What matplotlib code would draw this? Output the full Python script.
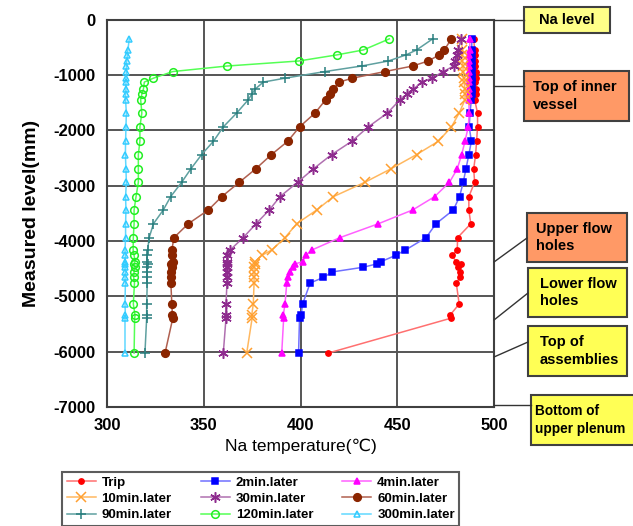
import numpy as np
import matplotlib.pyplot as plt
from matplotlib.patches import Rectangle
from matplotlib.lines import Line2D

plt.rcParams['font.family'] = ['Liberation Sans', 'DejaVu Sans']
plt.rcParams['axes.unicode_minus'] = False

# measured levels (mm), same thermocouple heights for every curve
levels = [-350, -550, -640, -750, -840, -940, -1060, -1130, -1260, -1350, -1450,
          -1690, -1940, -2200, -2440, -2700, -2940, -3200, -3440, -3690, -3940,
          -4165, -4260, -4375, -4415, -4475, -4560, -4660, -4760,
          -5140, -5340, -5395, -6025]

t_trip = [489.5, 490, 490, 490, 490, 490.5, 490.5, 490, 490.5, 490.5, 490,
          491.5, 491.5, 491, 490.5, 489.5, 490, 487, 487, 488, 481.2,
          481, 478.3, 480.4, 483, 481.6, 482.4, 482.4, 480.5,
          482, 477.3, 477.8, 414.4]
t_2min = [488.5, 488.5, 488.5, 488.5, 488.5, 488.5, 488.5, 488.5, 488.5, 488.5, 488.3,
          487.6, 487.2, 488.3, 487, 485.5, 484.1, 482.2, 479, 470, 464.9,
          454.2, 449.2, 441.6, 439.4, 432.5, 416.4, 411.8, 405,
          401.1, 400.3, 399.5, 399]
t_4min = [487.5, 487.5, 487.3, 487.3, 487.3, 487, 487, 487, 487, 487, 487,
          487.2, 486.7, 485, 483.3, 481, 477, 469.3, 458, 440.2, 420.4,
          405.8, 402.8, 401.1, 397.2, 396, 394.6, 393.7, 392.9,
          392, 391.1, 391.3, 390.3]
t_10min = [483.3, 483.5, 483.5, 483.5, 484, 484, 484.5, 484.5, 485, 485, 485,
           482, 478, 471.2, 460, 446.6, 433.3, 417, 408.4, 398, 392,
           385.1, 380, 376.5, 376.5, 376, 376, 376, 376,
           375.6, 374.8, 375, 372.2]
t_30min = [483, 481.5, 481, 479.8, 479.2, 473.8, 467.8, 462.6, 458.3, 455, 451.4,
           444.9, 435, 426.5, 416.1, 406.6, 398.5, 389.4, 383.9, 377, 370.4,
           363.6, 362, 361.8, 362, 361.8, 362, 361.8, 362,
           361.5, 361.3, 361.5, 360.1]
t_60min = [478, 474.3, 471.7, 466, 458, 443.7, 426.8, 420, 417, 415.2, 413,
           407.5, 399.5, 393.4, 385, 376.8, 368.4, 359.3, 352.4, 342, 334.6,
           333.5, 333.8, 334, 333, 333.5, 333, 333, 333,
           333.5, 333.8, 334, 330]
t_90min = [468.3, 460, 454.5, 445.4, 431.6, 412.7, 392, 380.8, 376.5, 374.8, 373,
           367, 360.1, 355, 348.9, 343.3, 338.6, 332.9, 329.1, 324, 321.8,
           321, 320.8, 320.5, 321, 320.5, 320.8, 320.5, 320.8,
           320.5, 320.5, 320.5, 319.6]
t_120min = [445.9, 432.5, 418.7, 399, 362.2, 334, 324, 319.3, 318.8, 318, 317.4,
            318, 317, 317, 316.2, 316.2, 316.2, 315, 314, 314, 313.6,
            313.5, 314, 314.5, 313.8, 314.5, 314, 313.8, 314.2,
            313.6, 314.5, 314.3, 314]
t_300min = [311.5, 310.8, 310.5, 310.2, 310, 310, 309.8, 309.8, 309.8, 309.6, 309.6,
            310, 309.8, 309.6, 309.5, 309.8, 310, 309.6, 309.8, 309.6, 309.6,
            309.3, 309.5, 309.2, 309.5, 309.3, 309.5, 309.3, 309.5,
            309.3, 309.5, 309.3, 309.3]

names = ['Trip', '2min.later', '4min.later', '10min.later', '30min.later',
         '60min.later', '90min.later', '120min.later', '300min.later']
temps = [t_trip, t_2min, t_4min, t_10min, t_30min, t_60min, t_90min, t_120min, t_300min]

mcol = ['#FF0000', '#0000FF', '#FF00FF', '#FFA030', '#8E2B8E', '#8B2500', '#2A7F7F', '#22EE22', '#33CCFF']
lcol = ['#FF7070', '#7070FF', '#FF60FF', '#FFB860', '#B070B0', '#B06050', '#5FA0A0', '#55FF55', '#60D8FF']
marks = ['o', 's', '^', 'x', (6, 2, 0), 'o', '+', 'o', '^']
msz = [3.8, 5, 5, 6.5, 7.5, 5.5, 7.5, 5.5, 5]
filled = [True, True, True, True, True, True, True, False, False]

# box notes on the right: text, color, box (px: x0, y0, x1, y1), line from spine (y_from, x_to, y_to)
notes = [
    ('Na level', '#FFFF88', (524, 7, 610, 33), 'center', (20, 524, 20)),
    ('Top of inner\nvessel', '#FF9966', (524, 71, 629, 121), 533, (86, 524, 86)),
    ('Upper flow\nholes', '#FF9966', (527, 213, 627, 262), 536, (262, 527, 238)),
    ('Lower flow\nholes', '#FFFF55', (528, 268, 627, 317), 540, (320, 528, 293)),
    ('Top of\nassemblies', '#FFFF55', (528, 326, 627, 376), 540, (357, 528, 342)),
    ('Bottom of\nupper plenum', '#FFFF55', (531, 395, 645, 445), 535, (405, 531, 405)),
]

W, H = 633, 526
fig = plt.figure(figsize=(W / 100, H / 100), dpi=100)
ax = fig.add_axes([107 / W, 1 - 407 / H, (494 - 107) / W, (407 - 19.5) / H])


def fx(x):
    return x / W


def fy(y):
    return 1 - y / H


handles = []
for i in range(len(names)):
    fc = mcol[i] if filled[i] else 'none'
    h, = ax.plot(temps[i], levels, color=lcol[i], lw=1.1, marker=marks[i], ms=msz[i],
                 mfc=fc, mec=mcol[i], mew=1.1, label=names[i])
    handles.append(h)

ax.set_xlim(300, 500)
ax.set_ylim(-7000, 0)
ax.set_xticks(np.arange(300, 501, 50))
ax.set_yticks(np.arange(-7000, 1, 1000))
ax.grid(True, color='#555555', lw=1.4)
ax.set_axisbelow(True)
for s in ax.spines.values():
    s.set_color('#404040')
    s.set_linewidth(1.5)
ax.tick_params(length=0, pad=8, labelsize=12)
for lab in ax.get_xticklabels() + ax.get_yticklabels():
    lab.set_fontweight('bold')
ax.set_xlabel('Na temperature(\u2103)', fontsize=12.5, labelpad=4)
ax.set_ylabel('Measured level(mm)', fontsize=14, fontweight='bold', labelpad=10)

# legend, filled column by column
order = [0, 3, 6, 1, 4, 7, 2, 5, 8]
leg = fig.legend([handles[k] for k in order], [names[k] for k in order],
                 loc='upper left', bbox_to_anchor=(fx(62), fy(472)), ncol=3,
                 frameon=True, fancybox=False, edgecolor='#333333',
                 prop={'size': 9.5, 'weight': 'bold'}, handlelength=2.2,
                 columnspacing=2.2, labelspacing=0.3, borderpad=0.35,
                 handletextpad=0.45, borderaxespad=0)
leg.get_frame().set_linewidth(1.5)

for txt, col, (x0, y0, x1, y1), tx, (ly, lx, ly2) in notes:
    fig.add_artist(Line2D([fx(494), fx(lx)], [fy(ly), fy(ly2)], transform=fig.transFigure,
                          color='#333333', lw=1))
    fig.add_artist(Rectangle((fx(x0), fy(y1)), fx(x1 - x0), (y1 - y0) / H,
                             transform=fig.transFigure, facecolor=col,
                             edgecolor='#404040', lw=1.5))
    fs = 9.8 if txt.startswith('Bottom') else 10.5
    if tx == 'center':
        fig.text(fx((x0 + x1) / 2), fy((y0 + y1) / 2), txt, ha='center', va='center',
                 fontsize=fs, fontweight='bold')
    else:
        fig.text(fx(tx), fy((y0 + y1) / 2), txt, ha='left', va='center',
                 fontsize=fs, fontweight='bold', linespacing=1.35)

fig.savefig('out.png', dpi=100)
